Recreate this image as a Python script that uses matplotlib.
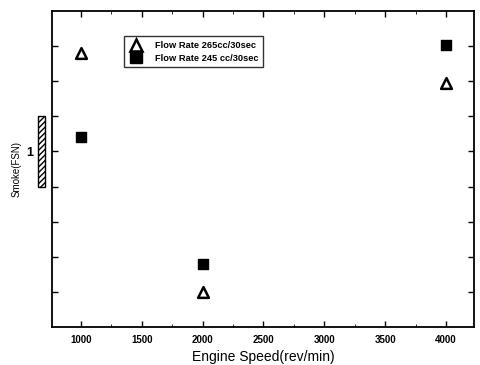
import matplotlib
matplotlib.use("Agg")
import matplotlib.pyplot as plt
from matplotlib.patches import Rectangle
from matplotlib.lines import Line2D

speed = [1000, 2000, 4000]
smoke_265 = [1.279, 0.599, 1.196]
smoke_245 = [1.040, 0.679, 1.304]
label_265 = "Flow Rate 265cc/30sec"
label_245 = "Flow Rate 245 cc/30sec"
x_ticks = [1000, 1500, 2000, 2500, 3000, 3500, 4000]
y_ticks = [0.6, 0.7, 0.8, 0.9, 1.0, 1.1, 1.2, 1.3]
y_ticklabels = ["", "", "", "", "1", "", "", ""]

plt.rcParams['font.family'] = ['Liberation Sans', 'DejaVu Sans']

fig = plt.figure(figsize=(4.81, 3.65), dpi=100)
ax = fig.add_axes([0.1075, 0.104, 0.878, 0.866])

ax.scatter(speed, smoke_265, marker='^', s=60, facecolors='white',
           edgecolors='black', linewidths=1.8, zorder=3)
ax.scatter(speed, smoke_245, marker='s', s=62, color='black', zorder=3)

ax.set_xlim(760, 4230)
ax.set_ylim(0.5, 1.4)
ax.set_xticks(x_ticks)
ax.set_xticks([1250, 1750, 2250, 2750, 3250, 3750], minor=True)
ax.set_yticks(y_ticks)
ax.set_yticklabels(y_ticklabels)
ax.tick_params(axis='both', direction='in', length=4, width=1.0,
               top=True, right=True, labelsize=7)
ax.tick_params(axis='x', which='minor', direction='in', length=2.5,
               top=True)
ax.tick_params(axis='x', pad=6)
ax.tick_params(axis='y', pad=13, labelsize=9)
for lbl in ax.get_xticklabels() + ax.get_yticklabels():
    lbl.set_fontweight('bold')
for sp in ax.spines.values():
    sp.set_linewidth(1.3)

ax.set_xlabel("Engine Speed(rev/min)", fontsize=10, labelpad=3)
ax.set_ylabel("Smoke(FSN)", fontsize=7)
ax.yaxis.set_label_coords(-0.072, 0.5)

handles = [Line2D([], [], marker='^', linestyle='none', markerfacecolor='white',
                  markeredgecolor='black', markeredgewidth=1.8, markersize=8),
           Line2D([], [], marker='s', linestyle='none', color='black', markersize=8)]
leg = ax.legend(handles, [label_265, label_245], loc='upper left',
                bbox_to_anchor=(0.16, 0.935), frameon=True, fancybox=False,
                edgecolor='black', prop={'size': 6.7, 'weight': 'bold'},
                handletextpad=1.3, borderpad=0.5, labelspacing=0.4,
                handlelength=1.5)
leg.get_frame().set_linewidth(1.0)

rect = Rectangle((38.3 / 481, 1 - 186.7 / 365), 6.7 / 481, 71 / 365,
                 transform=fig.transFigure, facecolor='white',
                 edgecolor='black', hatch='//////', linewidth=1.0)
fig.patches.append(rect)

fig.savefig("out.png", dpi=100)
